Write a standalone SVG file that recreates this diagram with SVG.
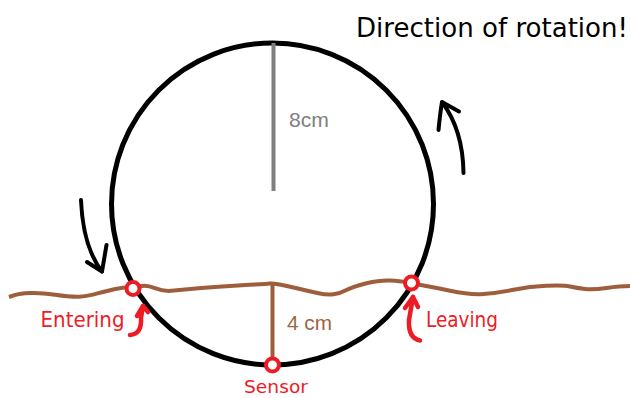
<svg xmlns="http://www.w3.org/2000/svg" width="631" height="398" viewBox="0 0 631 398">
<style>
.ink{fill:none;stroke:#000;stroke-width:4;stroke-linecap:round;stroke-linejoin:round}
.red{fill:none;stroke:#ed1c24;stroke-width:4.5;stroke-linecap:round;stroke-linejoin:round}
.pt{fill:#fff;stroke:#ed1c24;stroke-width:4}
.hand{font-family:"DejaVu Sans","Open Sans",sans-serif}
.lbl{font-family:"Liberation Sans","Open Sans",sans-serif;font-size:21px}
</style>
<rect width="631" height="398" fill="#fff"/>
<g id="wheel">
<circle cx="272.5" cy="204" r="161" fill="none" stroke="#000" stroke-width="5"/>
</g>
<g id="radius">
<line x1="273.5" y1="43" x2="273.5" y2="191" stroke="#7f7f7f" stroke-width="4"/>
<text class="lbl" x="289" y="127" fill="#7f7f7f" textLength="40" lengthAdjust="spacingAndGlyphs">8cm</text>
</g>
<g id="ground">
<path d="M9,297 L14.5,295.2 Q20,293.5 30,293 Q40,292.5 55,294.8 Q70,297 78.5,296.8 Q87,296.5 98.5,293.2 Q110,290 118.5,288.5 Q127,287 132,287 Q137,287 142,286 Q147,285 155,288.2 Q163,291.5 171.5,290.8 Q180,290 198.5,288.2 Q217,286.5 242,285.2 Q267,284 269.5,283.5 Q272,283 281,284.8 Q290,286.5 300,289 Q310,291.5 318.5,293.2 Q327,295 333.5,294.2 Q340,293.5 346.5,290 Q353,286.5 366.5,283.2 Q380,280 390,280.5 Q400,281 406,282.2 Q412,283.5 421,285 Q430,286.5 450,290.8 Q470,295 483.5,294 Q497,293 513.5,289.8 Q530,286.5 546.5,285.8 Q563,285 570,286.5 Q577,288 585,289 Q593,290 606.5,288 Q620,286 630,286" fill="none" stroke="#9e5e3c" stroke-width="4" stroke-linejoin="round"/>
</g>
<g id="depth">
<line x1="272.5" y1="283" x2="272.5" y2="362" stroke="#9e5e3c" stroke-width="4"/>
<text class="lbl" x="287" y="329.5" fill="#9c6644" textLength="45" lengthAdjust="spacingAndGlyphs">4 cm</text>
</g>
<g id="connectors">
<path class="ink" d="M81,200 Q83,247 102,271.5"/>
<path class="ink" d="M87,262 L102,271.5 L106.5,245"/>
<path class="ink" d="M463.5,173 Q463,130 442,102"/>
<path class="ink" d="M438.5,130 Q440,114 442,102 L459,111.5"/>
<path class="red" d="M130,335 Q142,334 141,318 L143,306"/>
<path class="red" d="M137,316 L143,306 L148,312"/>
<path class="red" d="M420,340.5 Q408,338 409,320 L413,297"/>
<path class="red" d="M405,308 L413,297 L418,307"/>
</g>
<g id="entering">
<circle class="pt" cx="133" cy="288.5" r="6.5"/>
<text class="hand" x="40.5" y="327" font-size="21" fill="#ed1c24" textLength="84" lengthAdjust="spacingAndGlyphs">Entering</text>
</g>
<g id="leaving">
<circle class="pt" cx="411.5" cy="283" r="6.5"/>
<text class="hand" x="426" y="327" font-size="21" fill="#ed1c24" textLength="72" lengthAdjust="spacingAndGlyphs">Leaving</text>
</g>
<g id="sensor">
<circle class="pt" cx="272.5" cy="365" r="6.5"/>
<text class="hand" x="244" y="393" font-size="18" fill="#ed1c24" textLength="64" lengthAdjust="spacingAndGlyphs">Sensor</text>
</g>
<g id="title">
<text class="hand" x="356" y="37" font-size="26" fill="#000" textLength="272" lengthAdjust="spacingAndGlyphs">Direction of rotation!</text>
</g>
</svg>
